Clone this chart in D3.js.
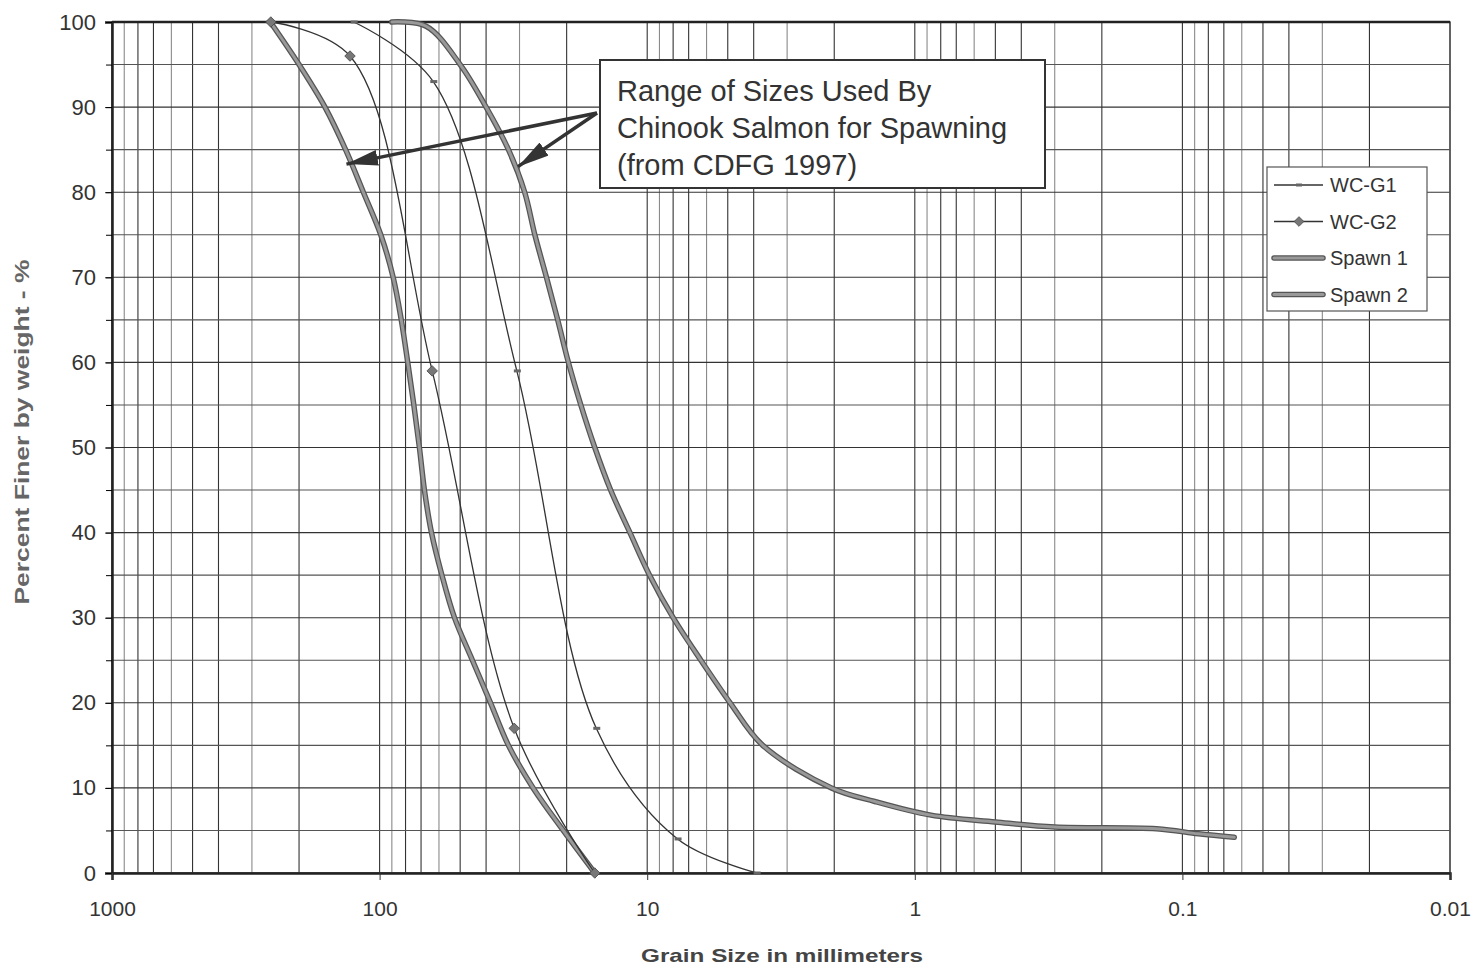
<!DOCTYPE html>
<html>
<head>
<meta charset="utf-8">
<script src="https://cdn.jsdelivr.net/npm/d3@7"></script>
<style>
  body { margin: 0; background: #fff; }
  text { font-family: "Liberation Sans", Arial, sans-serif; }
</style>
</head>
<body>
<div id="vis"></div>
<script>
// frame
const FRAME_WIDTH = 1476;
const FRAME_HEIGHT = 969;
const MARGINS = {left: 112, right: 26, top: 22, bottom: 96};

// data: grain size (mm) / percent finer
const wcG1Size = [125, 63, 30.7, 15.5, 7.7, 3.9];
const wcG1Pct = [100, 93, 59, 17, 4, 0];

const wcG2Size = [255, 129, 63.6, 31.4, 15.7];
const wcG2Pct = [100, 96, 59, 17, 0];

const spawn1Size = [90, 67, 50, 40, 33, 28.7, 26.3, 23.8, 21.6, 19.7, 17.7, 15.7, 13.7, 11.6, 9.8, 8, 6.3, 4.9, 3.7, 2.05, 1.41, 0.87, 0.5, 0.3, 0.125, 0.087, 0.064];
const spawn1Pct = [100, 99.5, 95, 90, 85, 80, 75, 70, 65, 60, 55, 50, 45, 40, 35, 30, 25, 20, 15, 10, 8.4, 6.8, 6.0, 5.4, 5.2, 4.6, 4.2];

const spawn2Size = [256, 200, 160, 134, 115, 99, 89, 83, 78.5, 74.5, 71, 68, 64, 58.5, 52.5, 45, 38.5, 33, 26.7, 20.6, 15.7];
const spawn2Pct = [100, 95, 90, 85, 80, 75, 70, 65, 60, 55, 50, 45, 40, 35, 30, 25, 20, 15, 10, 5, 0];

// tick labels
const xTicks = [1000, 100, 10, 1, 0.1, 0.01];
const xTickLabels = ["1000", "100", "10", "1", "0.1", "0.01"];
const yTicks = [0, 10, 20, 30, 40, 50, 60, 70, 80, 90, 100];

const legendNames = ["WC-G1", "WC-G2", "Spawn 1", "Spawn 2"];
const noteLines = ["Range of Sizes Used By", "Chinook Salmon for Spawning", "(from CDFG 1997)"];
// arrow tips (size mm, percent)
const arrowTips = [[133, 83.3], [30.4, 83]];

const VIS_WIDTH = FRAME_WIDTH - MARGINS.left - MARGINS.right;
const VIS_HEIGHT = FRAME_HEIGHT - MARGINS.top - MARGINS.bottom;

const svg = d3.select("#vis")
  .append("svg")
    .attr("width", FRAME_WIDTH)
    .attr("height", FRAME_HEIGHT);

const X_SCALE = d3.scaleLog()
  .domain([1000, 0.01])
  .range([MARGINS.left, MARGINS.left + VIS_WIDTH]);

const Y_SCALE = d3.scaleLinear()
  .domain([0, 100])
  .range([MARGINS.top + VIS_HEIGHT, MARGINS.top]);

// grid
const grid = svg.append("g");
grid.selectAll("line.vg")
  .data(X_SCALE.ticks())
  .enter().append("line")
    .attr("x1", d => X_SCALE(d)).attr("x2", d => X_SCALE(d))
    .attr("y1", MARGINS.top).attr("y2", MARGINS.top + VIS_HEIGHT)
    .attr("stroke", (d, i) => i % 3 === 1 ? "#8a8a8a" : "#333")
    .attr("stroke-width", 1.1);

grid.selectAll("line.hg")
  .data(Y_SCALE.ticks(20))
  .enter().append("line")
    .attr("x1", MARGINS.left).attr("x2", MARGINS.left + VIS_WIDTH)
    .attr("y1", d => Y_SCALE(d)).attr("y2", d => Y_SCALE(d))
    .attr("stroke", (d, i) => i % 2 === 1 ? "#555" : "#333")
    .attr("stroke-width", 1.1);

// plot border
svg.append("rect")
  .attr("x", MARGINS.left).attr("y", MARGINS.top)
  .attr("width", VIS_WIDTH).attr("height", VIS_HEIGHT)
  .attr("fill", "none").attr("stroke", "#555").attr("stroke-width", 1.5);
svg.append("line")
  .attr("x1", MARGINS.left).attr("x2", MARGINS.left + VIS_WIDTH)
  .attr("y1", MARGINS.top).attr("y2", MARGINS.top)
  .attr("stroke", "#222").attr("stroke-width", 2.5);

// axes
const yAxis = svg.append("g")
  .attr("transform", "translate(" + MARGINS.left + ",0)")
  .call(d3.axisLeft(Y_SCALE).tickValues(yTicks).tickSize(7).tickPadding(9));
svg.append("g")
  .attr("transform", "translate(" + MARGINS.left + ",0)")
  .call(d3.axisLeft(Y_SCALE).tickValues(Y_SCALE.ticks(20)).tickSize(6).tickFormat(""))
  .select(".domain").remove();

const xAxis = svg.append("g")
  .attr("transform", "translate(0," + (MARGINS.top + VIS_HEIGHT) + ")")
  .call(d3.axisBottom(X_SCALE).tickValues(xTicks).tickSize(7).tickPadding(21)
    .tickFormat((d, i) => xTickLabels[i]));

[yAxis, xAxis].forEach(a => {
  a.select(".domain").attr("stroke", "#222").attr("stroke-width", 2.5);
  a.selectAll(".tick line").attr("stroke", "#333");
  a.selectAll("text").attr("font-size", 21).attr("fill", "#333")
    .attr("font-family", "Liberation Sans, Arial, sans-serif");
});
yAxis.selectAll("text").attr("font-size", 22);

// axis titles
svg.append("text")
  .attr("x", 782)
  .attr("y", 962)
  .attr("text-anchor", "middle")
  .attr("font-size", 19).attr("font-weight", "bold").attr("fill", "#444")
  .attr("textLength", 282).attr("lengthAdjust", "spacingAndGlyphs")
  .text("Grain Size in millimeters");

svg.append("text")
  .attr("transform", "translate(29,432) rotate(-90)")
  .attr("text-anchor", "middle")
  .attr("font-size", 20).attr("font-weight", "bold").attr("fill", "#666")
  .attr("textLength", 345).attr("lengthAdjust", "spacingAndGlyphs")
  .text("Percent Finer by weight - %");

// lines
const line = d3.line()
  .x(d => X_SCALE(d[0]))
  .y(d => Y_SCALE(d[1]))
  .curve(d3.curveCatmullRom.alpha(0.5));

const zip = (a, b) => a.map((v, i) => [v, b[i]]);
const wcG1 = zip(wcG1Size, wcG1Pct);
const wcG2 = zip(wcG2Size, wcG2Pct);
const spawn1 = zip(spawn1Size, spawn1Pct);
const spawn2 = zip(spawn2Size, spawn2Pct);

[spawn1, spawn2].forEach(s => {
  svg.append("path").datum(s).attr("d", line)
    .attr("fill", "none").attr("stroke", "#555").attr("stroke-width", 5.5)
    .attr("stroke-linecap", "round");
  svg.append("path").datum(s).attr("d", line)
    .attr("fill", "none").attr("stroke", "#999").attr("stroke-width", 3)
    .attr("stroke-linecap", "round");
});

[wcG1, wcG2].forEach(s => {
  svg.append("path").datum(s).attr("d", line)
    .attr("fill", "none").attr("stroke", "#333").attr("stroke-width", 1.3);
});

// markers
svg.selectAll("rect.g1")
  .data(wcG1)
  .enter().append("rect")
    .attr("x", d => X_SCALE(d[0]) - 3)
    .attr("y", d => Y_SCALE(d[1]) - 1.5)
    .attr("width", 7).attr("height", 3)
    .attr("fill", "#666");

svg.selectAll("path.g2")
  .data(wcG2)
  .enter().append("path")
    .attr("d", d3.symbol(d3.symbolDiamond2, 70))
    .attr("transform", d => "translate(" + X_SCALE(d[0]) + "," + Y_SCALE(d[1]) + ")")
    .attr("fill", "#777").attr("stroke", "#444").attr("stroke-width", 0.8);

// annotation box
const note = svg.append("g");
note.append("rect")
  .attr("x", 600).attr("y", 60).attr("width", 445).attr("height", 128)
  .attr("fill", "#fff").attr("stroke", "#333").attr("stroke-width", 2);
note.selectAll("text")
  .data(noteLines)
  .enter().append("text")
    .attr("x", 617)
    .attr("y", (d, i) => 101 + i * 37)
    .attr("font-size", 29).attr("fill", "#333")
    .text(d => d);

// arrows
svg.append("defs").append("marker")
  .attr("id", "arrow")
  .attr("viewBox", "0 0 10 10")
  .attr("refX", 10).attr("refY", 5)
  .attr("markerWidth", 9).attr("markerHeight", 4.5)
  .attr("markerUnits", "strokeWidth")
  .attr("orient", "auto")
  .attr("preserveAspectRatio", "none")
  .append("path").attr("d", "M0,0 L10,5 L0,10 Z").attr("fill", "#333");

svg.selectAll("line.arrow")
  .data(arrowTips)
  .enter().append("line")
    .attr("x1", 597).attr("y1", 113)
    .attr("x2", d => X_SCALE(d[0])).attr("y2", d => Y_SCALE(d[1]))
    .attr("stroke", "#333").attr("stroke-width", 3.5)
    .attr("marker-end", "url(#arrow)");

// legend
const legend = svg.append("g");
legend.append("rect")
  .attr("x", 1267).attr("y", 167).attr("width", 160).attr("height", 144)
  .attr("fill", "#fff").attr("stroke", "#555").attr("stroke-width", 1.2);

legendNames.forEach((name, i) => {
  const ly = 185 + i * 36.5;
  if (i < 2) {
    legend.append("line")
      .attr("x1", 1274).attr("x2", 1323).attr("y1", ly).attr("y2", ly)
      .attr("stroke", "#333").attr("stroke-width", 1.3);
  } else {
    legend.append("line")
      .attr("x1", 1274).attr("x2", 1323).attr("y1", ly).attr("y2", ly)
      .attr("stroke", "#555").attr("stroke-width", 5.5).attr("stroke-linecap", "round");
    legend.append("line")
      .attr("x1", 1274).attr("x2", 1323).attr("y1", ly).attr("y2", ly)
      .attr("stroke", "#999").attr("stroke-width", 3).attr("stroke-linecap", "round");
  }
  if (i === 0) {
    legend.append("rect").attr("x", 1296).attr("y", ly - 1.5)
      .attr("width", 6).attr("height", 3).attr("fill", "#666");
  }
  if (i === 1) {
    legend.append("path")
      .attr("d", d3.symbol(d3.symbolDiamond2, 60))
      .attr("transform", "translate(1299," + ly + ")")
      .attr("fill", "#777").attr("stroke", "#444").attr("stroke-width", 0.8);
  }
  legend.append("text")
    .attr("x", 1330).attr("y", ly + 7)
    .attr("font-size", 20).attr("fill", "#333")
    .text(name);
});
</script>
</body>
</html>
